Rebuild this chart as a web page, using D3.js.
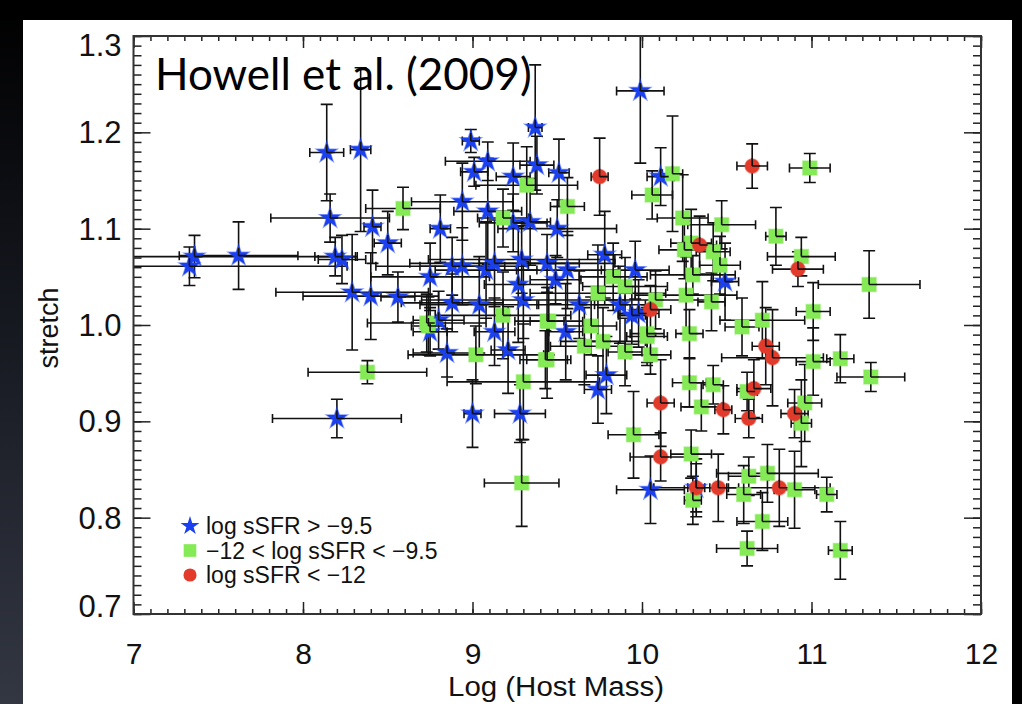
<!DOCTYPE html>
<html>
<head>
<meta charset="utf-8">
<script src="https://cdn.jsdelivr.net/npm/d3@7"></script>
<style>
  html, body { margin: 0; padding: 0; }
  body { width: 1022px; height: 704px; overflow: hidden; background: #000; }
  svg text { font-family: "Liberation Sans", Arial, sans-serif; }
</style>
</head>
<body>
<div id="chart"></div>
<script>
// [log host mass, stretch, x error, stretch error]
var starPoints = [
    [7.33, 1.061, 0.93, 0.020], [7.36, 1.071, 0.96, 0.022], [7.62, 1.072, 0.35, 0.035],
    [8.14, 1.179, 0.10, 0.050], [8.34, 1.182, 0.06, 0.085], [8.16, 1.111, 0.35, 0.025],
    [8.19, 1.071, 0.12, 0.020], [8.23, 1.068, 0.14, 0.025], [8.41, 1.102, 0.05, 0.038],
    [8.50, 1.085, 0.08, 0.033], [8.29, 1.034, 0.45, 0.060], [8.40, 1.030, 0.40, 0.045],
    [8.56, 1.029, 0.10, 0.026], [8.20, 0.903, 0.38, 0.020], [9.00, 0.908, 0.05, 0.035],
    [9.28, 0.908, 0.15, 0.030], [8.99, 1.191, 0.05, 0.012], [9.09, 1.170, 0.25, 0.020],
    [9.01, 1.159, 0.08, 0.015], [9.24, 1.154, 0.10, 0.035], [9.38, 1.166, 0.10, 0.030],
    [9.37, 1.205, 0.04, 0.065], [9.51, 1.158, 0.06, 0.035], [8.94, 1.128, 0.30, 0.040],
    [9.09, 1.118, 0.20, 0.055], [8.81, 1.100, 0.06, 0.035], [9.34, 1.107, 0.12, 0.045],
    [9.50, 1.100, 0.35, 0.030], [9.24, 1.106, 0.20, 0.030], [8.75, 1.050, 0.35, 0.035],
    [8.88, 1.061, 0.45, 0.030], [8.94, 1.061, 0.25, 0.040], [9.08, 1.057, 0.30, 0.050],
    [9.13, 1.064, 0.50, 0.045], [9.29, 1.068, 0.55, 0.035], [9.44, 1.064, 0.40, 0.030],
    [9.56, 1.057, 0.30, 0.040], [9.49, 1.047, 0.15, 0.025], [9.27, 1.042, 0.20, 0.060],
    [8.88, 1.023, 0.30, 0.030], [9.04, 1.021, 0.35, 0.050], [9.30, 1.026, 0.60, 0.040],
    [9.63, 1.021, 0.25, 0.035], [9.78, 1.073, 0.10, 0.045], [9.96, 1.057, 0.20, 0.030],
    [9.87, 1.021, 0.15, 0.040], [9.98, 1.012, 0.12, 0.035], [8.80, 1.005, 0.15, 0.030],
    [8.75, 0.993, 0.10, 0.025], [9.13, 0.993, 0.12, 0.035], [9.21, 0.974, 0.10, 0.045],
    [8.85, 0.971, 0.20, 0.025], [9.55, 0.993, 0.10, 0.050], [9.94, 1.010, 0.08, 0.030],
    [9.79, 0.948, 0.12, 0.040], [9.74, 0.933, 0.08, 0.035], [10.05, 0.829, 0.20, 0.035],
    [10.32, 0.831, 0.25, 0.030], [10.11, 1.154, 0.08, 0.030], [10.49, 1.045, 0.08, 0.040],
    [9.99, 1.243, 0.14, 0.075]
];

var squarePoints = [
    [8.59, 1.121, 0.22, 0.022], [9.32, 1.145, 0.30, 0.040], [9.18, 1.111, 0.15, 0.030],
    [9.18, 1.010, 0.40, 0.045], [9.44, 1.004, 0.10, 0.035], [8.73, 1.002, 0.35, 0.030],
    [8.38, 0.951, 0.35, 0.012], [9.02, 0.969, 0.40, 0.030], [9.30, 0.941, 0.45, 0.060],
    [9.29, 0.836, 0.22, 0.045], [9.43, 0.964, 0.15, 0.030], [8.74, 0.999, 0.10, 0.030],
    [9.56, 1.123, 0.10, 0.030], [10.18, 1.157, 0.06, 0.060], [10.06, 1.135, 0.12, 0.025],
    [9.83, 1.050, 0.20, 0.035], [9.90, 1.040, 0.25, 0.030], [9.74, 1.033, 0.40, 0.050],
    [10.08, 1.026, 0.30, 0.030], [9.45, 1.004, 0.20, 0.035], [9.70, 0.999, 0.15, 0.030],
    [9.66, 0.978, 0.20, 0.040], [9.77, 0.983, 0.25, 0.035], [9.90, 0.972, 0.10, 0.035],
    [10.03, 0.988, 0.12, 0.030], [10.05, 0.969, 0.12, 0.020], [9.44, 0.964, 0.12, 0.040],
    [9.95, 0.886, 0.15, 0.045], [10.24, 1.111, 0.15, 0.045], [10.47, 1.104, 0.20, 0.025],
    [10.29, 1.085, 0.12, 0.035], [10.42, 1.076, 0.10, 0.030], [10.46, 1.062, 0.12, 0.030],
    [10.79, 1.092, 0.06, 0.030], [10.94, 1.071, 0.20, 0.020], [10.99, 1.163, 0.12, 0.015],
    [11.34, 1.042, 0.30, 0.035], [11.01, 1.014, 0.10, 0.030], [10.26, 1.031, 0.30, 0.040],
    [10.41, 1.024, 0.08, 0.030], [10.30, 1.052, 0.25, 0.020], [10.25, 1.078, 0.15, 0.030],
    [10.03, 0.991, 0.10, 0.030], [10.28, 0.991, 0.08, 0.025], [10.59, 0.998, 0.10, 0.030],
    [10.71, 1.005, 0.25, 0.040], [11.01, 0.962, 0.10, 0.035], [11.17, 0.965, 0.08, 0.025],
    [11.35, 0.946, 0.20, 0.015], [10.28, 0.940, 0.10, 0.025], [10.42, 0.938, 0.06, 0.020],
    [10.35, 0.915, 0.12, 0.025], [10.62, 0.931, 0.06, 0.020], [10.96, 0.919, 0.10, 0.040],
    [10.94, 0.898, 0.06, 0.045], [10.29, 0.866, 0.12, 0.025], [10.63, 0.843, 0.12, 0.020],
    [10.74, 0.846, 0.30, 0.030], [10.60, 0.824, 0.10, 0.030], [10.30, 0.818, 0.05, 0.025],
    [10.90, 0.829, 0.12, 0.040], [11.09, 0.824, 0.06, 0.018], [10.71, 0.796, 0.15, 0.030],
    [10.62, 0.768, 0.18, 0.018], [11.17, 0.766, 0.07, 0.030]
];

var circlePoints = [
    [9.75, 1.154, 0.05, 0.040], [10.65, 1.165, 0.09, 0.023], [10.92, 1.058, 0.15, 0.018],
    [10.34, 1.083, 0.10, 0.030], [10.05, 1.016, 0.12, 0.025], [10.11, 0.919, 0.08, 0.045],
    [10.11, 0.863, 0.18, 0.025], [10.48, 0.912, 0.05, 0.025], [10.63, 0.903, 0.08, 0.020],
    [10.66, 0.934, 0.10, 0.030], [10.73, 0.978, 0.08, 0.040], [10.77, 0.966, 0.30, 0.050],
    [10.90, 0.908, 0.08, 0.025], [10.45, 0.831, 0.05, 0.035], [10.81, 0.831, 0.30, 0.040],
    [10.32, 0.831, 0.05, 0.025]
];

var xTicks = [7, 8, 9, 10, 11, 12];
var yTicks = [0.7, 0.8, 0.9, 1.0, 1.1, 1.2, 1.3];
var legendLabels = ["log sSFR > \u22129.5", "\u221212 < log sSFR < \u22129.5", "log sSFR < \u221212"];

var width = 1022,
    height = 704;

var svg = d3.select("#chart").append("svg")
    .attr("width", width)
    .attr("height", height);

// dark slide background
var defs = svg.append("defs");
var grad = defs.append("linearGradient")
    .attr("id", "bg")
    .attr("x1", 0).attr("y1", 0).attr("x2", 0).attr("y2", 1);
grad.append("stop").attr("offset", "0%").attr("stop-color", "#000");
grad.append("stop").attr("offset", "45%").attr("stop-color", "#161820");
grad.append("stop").attr("offset", "100%").attr("stop-color", "#333742");
svg.append("rect").attr("width", width).attr("height", height).attr("fill", "url(#bg)");
svg.append("rect").attr("x", 1012).attr("width", 10).attr("height", height).attr("fill", "#000");
svg.append("rect").attr("x", 0).attr("width", width).attr("height", 20).attr("fill", "#000");
svg.append("rect")
    .attr("x", 23).attr("y", 20)
    .attr("width", 1012 - 23).attr("height", height - 20)
    .attr("fill", "#fff");

var pLeft = 133.5, pRight = 981, pTop = 36, pBottom = 614;

var x = d3.scaleLinear().domain([7, 12]).range([pLeft, pRight]);
var y = d3.scaleLinear().domain([0.7, 1.3]).range([pBottom, pTop]);

var xMinor = d3.range(70, 121).map(function (d) { return d / 10; });
var yMinor = d3.range(70, 131).map(function (d) { return d / 100; });

function styleAxis(g) {
    g.select(".domain").remove();
    g.selectAll(".tick line").attr("stroke", "#222").attr("stroke-width", 1.5);
    g.selectAll(".tick text")
        .attr("fill", "#111")
        .style("font-size", "31px");
}

// minor ticks
svg.append("g").attr("transform", "translate(0," + pBottom + ")")
    .call(d3.axisBottom(x).tickValues(xMinor).tickSize(-5).tickFormat(""))
    .call(styleAxis);
svg.append("g").attr("transform", "translate(0," + pTop + ")")
    .call(d3.axisTop(x).tickValues(xMinor).tickSize(-5).tickFormat(""))
    .call(styleAxis);
svg.append("g").attr("transform", "translate(" + pLeft + ",0)")
    .call(d3.axisLeft(y).tickValues(yMinor).tickSize(-8).tickFormat(""))
    .call(styleAxis);
svg.append("g").attr("transform", "translate(" + pRight + ",0)")
    .call(d3.axisRight(y).tickValues(yMinor).tickSize(-8).tickFormat(""))
    .call(styleAxis);

// major ticks + labels
var xAxisG = svg.append("g").attr("transform", "translate(0," + pBottom + ")")
    .call(d3.axisBottom(x).tickValues(xTicks).tickSize(-12).tickPadding(30).tickFormat(d3.format("d")))
    .call(styleAxis);
xAxisG.selectAll(".tick text").attr("dy", "0.66em").style("font-size", "30px");
var yAxisG = svg.append("g").attr("transform", "translate(" + pLeft + ",0)")
    .call(d3.axisLeft(y).tickValues(yTicks).tickSize(-17).tickPadding(12).tickFormat(d3.format(".1f")))
    .call(styleAxis);
// the end labels sit inside the frame, as in the original
yAxisG.selectAll(".tick text")
    .attr("dy", function (d) {
        if (d == 1.3) return "0.62em";
        if (d == 0.7) return "0.08em";
        return "0.34em";
    });
svg.append("g").attr("transform", "translate(0," + pTop + ")")
    .call(d3.axisTop(x).tickValues(xTicks).tickSize(-12).tickFormat(""))
    .call(styleAxis);
svg.append("g").attr("transform", "translate(" + pRight + ",0)")
    .call(d3.axisRight(y).tickValues(yTicks).tickSize(-17).tickFormat(""))
    .call(styleAxis);

// plot clip
defs.append("clipPath").attr("id", "plotclip")
    .append("rect")
    .attr("x", pLeft).attr("y", pTop)
    .attr("width", pRight - pLeft).attr("height", pBottom - pTop);

var plot = svg.append("g").attr("clip-path", "url(#plotclip)");

var series = [
    {pts: starPoints, color: "#1a40f0", symbol: d3.symbolStar, size: 130},
    {pts: squarePoints, color: "#84ea55", symbol: d3.symbolSquare, size: 196},
    {pts: circlePoints, color: "#e23b2b", symbol: d3.symbolCircle, size: 160}
];

var all = [];
series.forEach(function (s) {
    s.pts.forEach(function (p) { all.push({p: p, s: s}); });
});

// error bars (full, underneath)
var bars = plot.append("g")
    .attr("stroke", "#111")
    .attr("stroke-width", 1.6)
    .attr("fill", "none");

bars.selectAll("path.err")
    .data(all)
    .enter().append("path")
    .attr("class", "err")
    .attr("d", function (d) {
        var p = d.p,
            cx = x(p[0]), cy = y(p[1]),
            x0 = x(p[0] - p[2]), x1 = x(p[0] + p[2]),
            y0 = y(p[1] - p[3]), y1 = y(p[1] + p[3]);
        return "M" + x0 + "," + cy + "H" + x1 +
            "M" + x0 + "," + (cy - 4.5) + "V" + (cy + 4.5) +
            "M" + x1 + "," + (cy - 4.5) + "V" + (cy + 4.5) +
            "M" + cx + "," + y0 + "V" + y1 +
            "M" + (cx - 6) + "," + y0 + "H" + (cx + 6) +
            "M" + (cx - 6) + "," + y1 + "H" + (cx + 6);
    });

// markers
plot.append("g").selectAll("path.mark")
    .data(all)
    .enter().append("path")
    .attr("class", "mark")
    .attr("transform", function (d) {
        return "translate(" + x(d.p[0]) + "," + y(d.p[1]) + ")";
    })
    .attr("d", function (d) { return d3.symbol(d.s.symbol, d.s.size)(); })
    .attr("fill", function (d) { return d.s.color; })
    .attr("stroke", function (d) { return d.s.color; })
    .attr("stroke-opacity", 0.5)
    .attr("stroke-width", 1.5);

// the upper/right halves of the bars sit on top of the symbols
plot.append("g")
    .attr("stroke", "#111")
    .attr("stroke-width", 1.6)
    .selectAll("path")
    .data(all)
    .enter().append("path")
    .attr("d", function (d) {
        var p = d.p, cx = x(p[0]), cy = y(p[1]);
        return "M" + cx + "," + cy + "H" + Math.min(x(p[0] + p[2]), cx + 8) +
            "M" + cx + "," + cy + "V" + Math.max(y(p[1] + p[3]), cy - 8);
    });

// frame
svg.append("rect")
    .attr("x", pLeft).attr("y", pTop)
    .attr("width", pRight - pLeft).attr("height", pBottom - pTop)
    .attr("fill", "none")
    .attr("stroke", "#333")
    .attr("stroke-width", 2);

// axis titles
svg.append("text")
    .attr("x", 556)
    .attr("y", 696)
    .attr("text-anchor", "middle")
    .attr("fill", "#111")
    .style("font-size", "27px")
    .attr("textLength", 216)
    .attr("lengthAdjust", "spacingAndGlyphs")
    .text("Log (Host Mass)");

svg.append("text")
    .attr("transform", "translate(58," + (y(1.0) + 3) + ") rotate(-90)")
    .attr("text-anchor", "middle")
    .attr("fill", "#111")
    .style("font-size", "27px")
    .text("stretch");

// title
svg.append("text")
    .attr("x", 155)
    .attr("y", 90)
    .attr("fill", "#000")
    .style("font-family", "Lato, 'Open Sans', sans-serif")
    .style("font-size", "44px")
    .text("Howell et al. (2009)");

// legend
var legend = svg.append("g").attr("transform", "translate(190,526)");
series.forEach(function (s, i) {
    var row = legend.append("g").attr("transform", "translate(0," + (i * 24.5) + ")");
    row.append("path")
        .attr("d", d3.symbol(s.symbol, i == 1 ? 160 : s.size * 0.85)())
        .attr("fill", s.color);
    row.append("text")
        .attr("x", 16)
        .attr("dy", "0.35em")
        .attr("fill", "#111")
        .style("font-size", "23px")
        .text(legendLabels[i]);
});
</script>
</body>
</html>
